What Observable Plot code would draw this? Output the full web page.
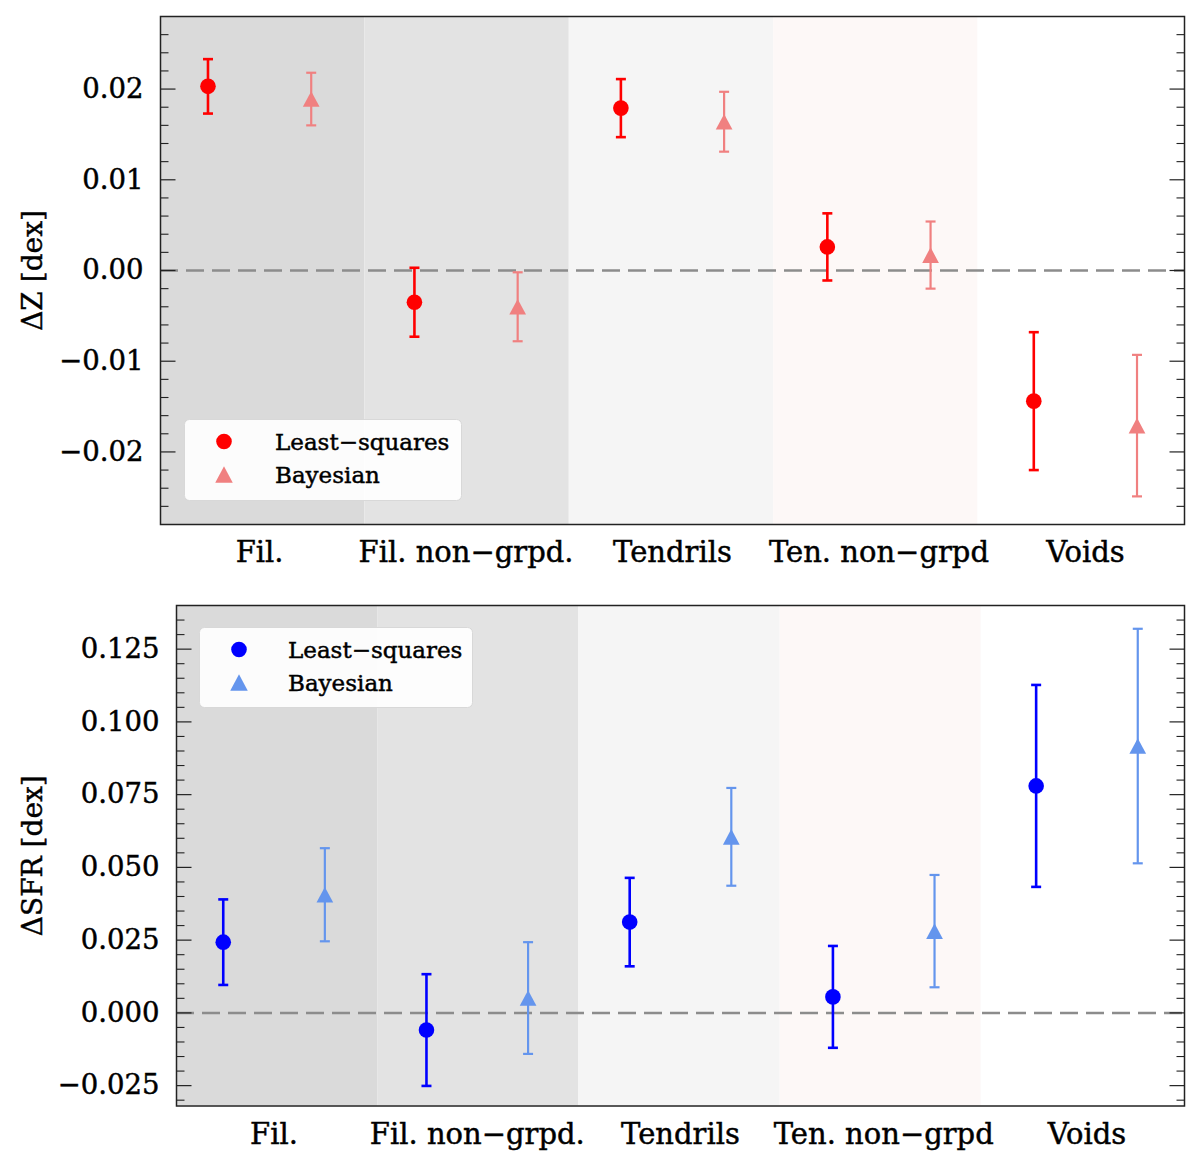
<!DOCTYPE html>
<html><head><meta charset="utf-8">
<script src="https://cdn.jsdelivr.net/npm/d3@7"></script>
<script src="https://cdn.jsdelivr.net/npm/@observablehq/plot@0.6"></script>
<style>
html,body{margin:0;padding:0;background:#fff;}
#wrap{position:relative;width:1200px;height:1164px;}
#wrap svg{display:block;}
.legend{position:absolute;}
#wrap text{stroke:#000;stroke-width:0.45px;}
</style></head><body><div id="wrap"></div>
<script>
// ---- data ----
const categories = ["Fil.", "Fil. non\u2212grpd.", "Tendrils", "Ten. non\u2212grpd", "Voids"];
const bandColors = ["#dadada", "#e3e3e3", "#f5f5f5", "#fdf8f7", "#ffffff"];
const bandEdges = [-0.48, 0.51, 1.50, 2.49, 3.48, 4.48];
const methods = ["Least\u2212squares", "Bayesian"];

const dZ_ls      = [0.0203, -0.0035, 0.0179, 0.0026, -0.0144];
const dZ_ls_err  = [0.0030,  0.0038, 0.0032, 0.0037,  0.0076];
const dZ_bay     = [0.0189, -0.0040, 0.0164, 0.0017, -0.0171];
const dZ_bay_err = [0.0029,  0.0038, 0.0033, 0.0037,  0.0078];

const dSFR_ls      = [0.0243, -0.0059, 0.0312, 0.0055, 0.0780];
const dSFR_ls_err  = [0.0147,  0.0192, 0.0152, 0.0175, 0.0347];
const dSFR_bay     = [0.0406,  0.0051, 0.0605, 0.0281, 0.0917];
const dSFR_bay_err = [0.0160,  0.0192, 0.0168, 0.0193, 0.0403];

const zMajor = [-0.02, -0.01, 0, 0.01, 0.02];
const sfrMajor = [-0.025, 0, 0.025, 0.05, 0.075, 0.1, 0.125];

// ---- helpers ----
const wrap = document.getElementById("wrap");
const dodge = 0.25;
const tickSym = (len, dir) => ({draw(ctx){ ctx.moveTo(0,0); ctx.lineTo(dir*len,0); }});
const capSym = {draw(ctx,size){ const r=Math.sqrt(size/Math.PI); ctx.moveTo(-r,0); ctx.lineTo(r,0); }};
const triSym = {draw(ctx,size){ const r=Math.sqrt(size/Math.PI); ctx.moveTo(0,-r); ctx.lineTo(r*1.07,r); ctx.lineTo(-r*1.07,r); ctx.closePath(); }};

const bands = categories.map((c,i)=>({x1: bandEdges[i], x2: bandEdges[i+1], color: bandColors[i]}));

function rowsOf(vals, errs, off){
  return categories.map((c,i)=>({x: i+off, y: vals[i], lo: vals[i]-errs[i], hi: vals[i]+errs[i]}));
}

function seriesMarks(rows, color, lw, symbol){
  return [
    Plot.ruleX(rows, {x:"x", y1:"lo", y2:"hi", stroke: color, strokeWidth: lw}),
    Plot.dot(rows, {x:"x", y:"lo", symbol: capSym, r: 5, stroke: color, strokeWidth: lw, fill: "none"}),
    Plot.dot(rows, {x:"x", y:"hi", symbol: capSym, r: 5, stroke: color, strokeWidth: lw, fill: "none"}),
    Plot.dot(rows, {x:"x", y:"y", symbol: symbol, r: 7.8, fill: color, stroke: "none"})
  ];
}

function panel(o){
  const ls = rowsOf(o.ls, o.lsErr, -dodge);
  const bay = rowsOf(o.bay, o.bayErr, dodge);
  return Plot.plot({
    width: 1200, height: o.height,
    marginLeft: o.marginLeft, marginRight: 16, marginTop: o.marginTop, marginBottom: o.marginBottom,
    style: {fontFamily: "'DejaVu Serif', serif", fontSize: "27px", color: "#000", background: "transparent", overflow: "visible"},
    x: {domain: [bandEdges[0], bandEdges[bandEdges.length-1]]},
    y: {domain: o.yDomain},
    marks: [
      Plot.rect(bands, {x1:"x1", x2:"x2", fill:"color"}),
      Plot.ruleY([0], {stroke:"#8c8c8c", strokeWidth: 2.5, strokeDasharray: "18,8"}),
      ...seriesMarks(ls, o.c1, 2.6, "circle"),
      ...seriesMarks(bay, o.c2, 2.2, triSym),
      Plot.dot(o.majors, {y: d=>d, frameAnchor:"left", symbol: tickSym(15,1), stroke:"#222", strokeWidth:1.2, fill:"none"}),
      Plot.dot(o.majors, {y: d=>d, frameAnchor:"right", symbol: tickSym(15,-1), stroke:"#222", strokeWidth:1.2, fill:"none"}),
      Plot.dot(o.minors, {y: d=>d, frameAnchor:"left", symbol: tickSym(8,1), stroke:"#222", strokeWidth:1.1, fill:"none"}),
      Plot.dot(o.minors, {y: d=>d, frameAnchor:"right", symbol: tickSym(8,-1), stroke:"#222", strokeWidth:1.1, fill:"none"}),
      Plot.axisY({ticks: o.majors, tickFormat: o.fmt, tickSize: 0, tickPadding: 17, fontSize: 27.5, label: null}),
      Plot.axisX({ticks: categories.map((c,i)=>i), tickFormat: i=>categories[i], tickSize: 0, tickPadding: 17, fontSize: 29, label: null}),
      Plot.text([o.yLabel], {frameAnchor: "left", textAnchor: "middle", dx: o.labelDx, rotate: -90, text: d=>d, fontSize: 28}),
      Plot.frame({stroke:"#222", strokeWidth: 1.5})
    ]
  });
}

function legend(left, topPx, w, h, c1, c2, textX){
  const svg = d3.create("svg").attr("class","legend").attr("width", w+4).attr("height", h+4)
    .style("left", (left-2)+"px").style("top", (topPx-2)+"px");
  svg.append("rect").attr("x",2.5).attr("y",2.5).attr("width",w-1).attr("height",h-1)
    .attr("rx",5).attr("fill","rgba(255,255,255,0.92)").attr("stroke","#d8d8d8").attr("stroke-width",1);
  svg.append("circle").attr("cx", 2+40).attr("cy", 2+22.5).attr("r", 7.8).attr("fill", c1);
  svg.append("path").attr("d", d3.symbol(triSym, Math.PI*8.2*8.2)()).attr("transform", `translate(${2+40},${2+55.5})`).attr("fill", c2);
  const t = svg.append("g").attr("font-family","'DejaVu Serif', serif").attr("font-size", 23).attr("fill","#000");
  t.append("text").attr("x", 2+textX).attr("y", 2+22.5).attr("dy","0.36em").text(methods[0]);
  t.append("text").attr("x", 2+textX).attr("y", 2+55.5).attr("dy","0.36em").text(methods[1]);
  return svg.node();
}

const topPanel = panel({
  ls: dZ_ls, lsErr: dZ_ls_err, bay: dZ_bay, bayErr: dZ_bay_err,
  c1: "#ff0000", c2: "#f08080",
  yDomain: [-0.028, 0.028], majors: zMajor,
  minors: d3.range(-26, 27, 2).filter(v=>v%10!==0).map(v=>v/1000),
  fmt: d3.format(".2f"), yLabel: "\u0394Z [dex]",
  height: 580, marginLeft: 160, marginTop: 16, marginBottom: 56, labelDx: -127
});
const bottomPanel = panel({
  ls: dSFR_ls, lsErr: dSFR_ls_err, bay: dSFR_bay, bayErr: dSFR_bay_err,
  c1: "#0000ff", c2: "#6495ed",
  yDomain: [-0.032, 0.140], majors: sfrMajor,
  minors: d3.range(-30, 136, 5).filter(v=>v%25!==0).map(v=>v/1000),
  fmt: d3.format(".3f"), yLabel: "\u0394SFR [dex]",
  height: 584, marginLeft: 176, marginTop: 25, marginBottom: 58.5, labelDx: -143
});
wrap.appendChild(topPanel);
wrap.appendChild(bottomPanel);
wrap.appendChild(legend(184, 419, 278, 82, "#ff0000", "#f08080", 91));
wrap.appendChild(legend(199, 627, 274, 81, "#0000ff", "#6495ed", 89));
</script></body></html>
